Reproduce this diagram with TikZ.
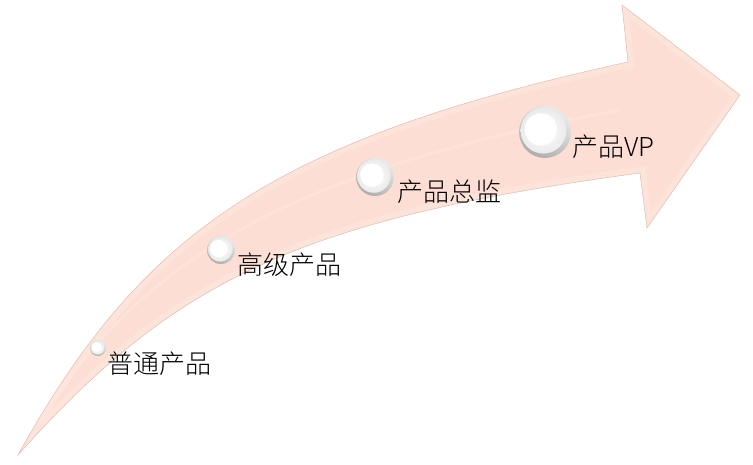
\documentclass[tikz,border=0pt]{standalone}
\usepackage{fontspec}
\setmainfont{Noto Sans CJK SC Light}
\definecolor{arrowfill}{RGB}{253,222,212}
\definecolor{arrowedge}{RGB}{226,188,176}
\definecolor{arrowlight}{RGB}{254,232,225}
\newcommand\glossball[2]{%
  \begin{scope}[shift={(#1)}]
    \shade[top color=black!8, bottom color=black!32, shading angle=-30] (0,0) circle (#2pt);
    \shade[inner color=white, outer color=black!8] (-0.06*#2,-0.05*#2) circle (0.88*#2 pt);
    \fill[white] (-0.16*#2,-0.1*#2) circle (0.62*#2 pt);
  \end{scope}}
\begin{document}
\begin{tikzpicture}[x=1pt,y=-1pt,
  lbl/.style={font=\fontsize{26}{26}\selectfont, anchor=west, inner sep=0pt, text=black}]
\useasboundingbox (0,0) rectangle (753,464);
% arrow body
\path[fill=arrowfill, line join=round]
  (18,455) .. controls (140,235) and (270,140) .. (628,62)
  -- (622,5) -- (740,95) -- (647,228) -- (640,173)
  .. controls (300,219) and (175,279) .. cycle;
% bevel band
\begin{scope}
  \clip (18,455) .. controls (140,235) and (270,140) .. (628,62)
    -- (622,5) -- (740,95) -- (647,228) -- (640,173)
    .. controls (300,219) and (175,279) .. cycle;
  \path[draw=arrowlight, line width=12pt, line join=miter, opacity=0.6]
    (18,455) .. controls (140,235) and (270,140) .. (628,62)
    -- (622,5) -- (740,95) -- (647,228) -- (640,173)
    .. controls (300,219) and (175,279) .. cycle;
  \path[draw=arrowlight, line width=3pt, line cap=round, opacity=0.5]
    (40,420) .. controls (150,250) and (300,170) .. (620,110);
\end{scope}
\path[draw=arrowedge, line width=0.5pt, line join=miter]
  (18,455) .. controls (140,235) and (270,140) .. (628,62)
  -- (622,5) -- (740,95) -- (647,228) -- (640,173)
  .. controls (300,219) and (175,279) .. cycle;
% balls
\coordinate (b1) at (98,348);
\coordinate (b2) at (221,250);
\coordinate (b3) at (375,177);
\coordinate (b4) at (545,132);
\glossball{b1}{8}
\glossball{b2}{14}
\glossball{b3}{19}
\glossball{b4}{26}
% labels
\node[lbl] (l1) at (107,364) {普通产品};
\node[lbl] (l2) at (237,265) {高级产品};
\node[lbl] (l3) at (397,192) {产品总监};
\node[lbl] (l4) at (572,147) {产品VP};
\end{tikzpicture}
\end{document}
